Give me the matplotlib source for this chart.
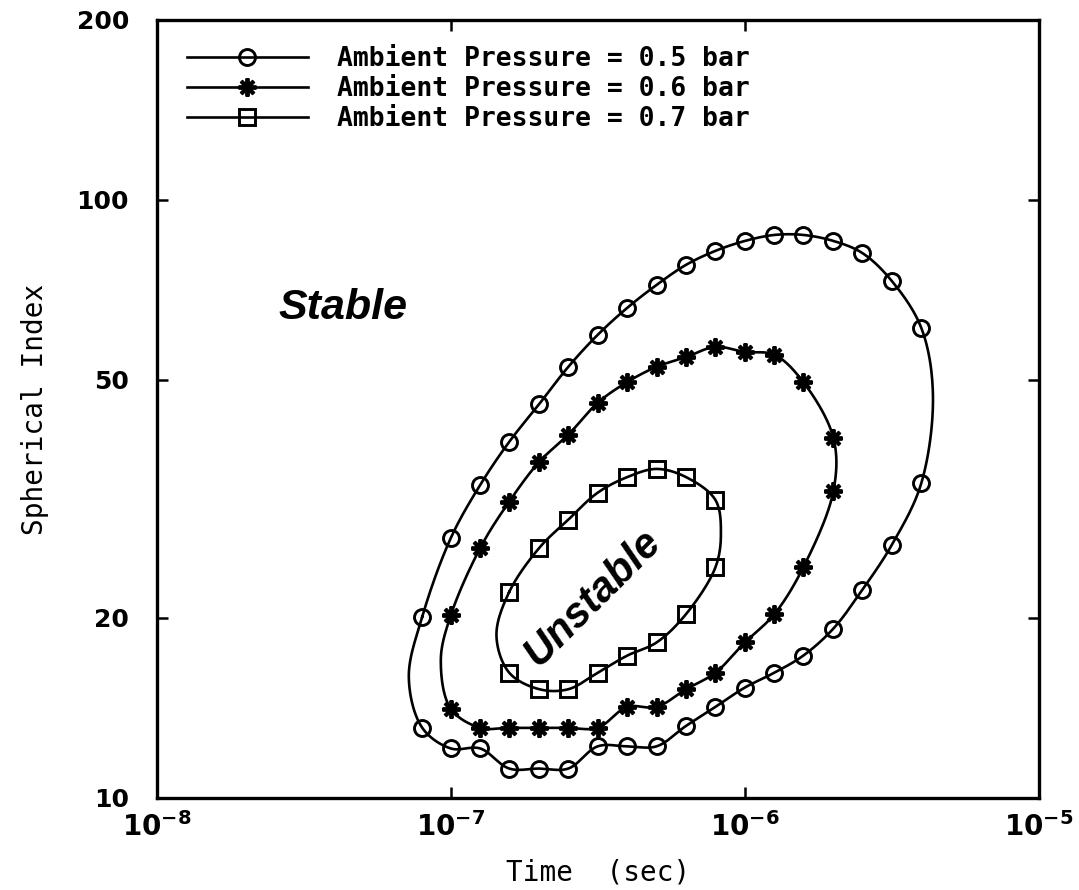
import numpy as np
import matplotlib
matplotlib.use("Agg")
import matplotlib.pyplot as plt
from matplotlib.ticker import FixedLocator, NullLocator, FixedFormatter

# ---------- data: time (s) and spherical index along each stability boundary ----------
# mark = 1 where a symbol is drawn, 0 for outline points without a symbol
t_05 = [8e-8, 1e-7, 1.26e-7, 1.58e-7, 2e-7, 2.51e-7, 3.16e-7, 3.98e-7, 5.01e-7, 6.31e-7,
        7.94e-7, 1e-6, 1.26e-6, 1.58e-6, 2e-6, 2.51e-6, 3.16e-6, 3.98e-6, 4.36e-6,
        3.98e-6, 3.16e-6, 2.51e-6, 2e-6, 1.58e-6, 1.26e-6, 1e-6, 7.94e-7, 6.31e-7,
        5.01e-7, 3.98e-7, 3.16e-7, 2.51e-7, 2e-7, 1.58e-7, 1.26e-7, 1e-7, 8e-8, 7.2e-8]
s_05 = [20.1, 27.2, 33.4, 39.4, 45.6, 52.6, 59.5, 66.0, 72.1, 77.9,
        82.2, 85.4, 87.4, 87.4, 85.4, 81.5, 73.2, 61.1, 47.2,
        33.6, 26.5, 22.3, 19.2, 17.3, 16.2, 15.3, 14.2, 13.2,
        12.2, 12.2, 12.2, 11.2, 11.2, 11.2, 12.1, 12.1, 13.1, 15.9]
m_05 = [1] * 18 + [0] + [1] * 18 + [0]

t_06 = [1e-7, 1.26e-7, 1.58e-7, 2e-7, 2.51e-7, 3.16e-7, 3.98e-7, 5.01e-7, 6.31e-7, 7.94e-7,
        1e-6, 1.26e-6, 1.58e-6, 2e-6, 2e-6, 1.58e-6, 1.26e-6, 1e-6, 7.94e-7, 6.31e-7,
        5.01e-7, 3.98e-7, 3.16e-7, 2.51e-7, 2e-7, 1.58e-7, 1.26e-7, 1e-7, 9.25e-8]
s_06 = [20.2, 26.2, 31.3, 36.5, 40.5, 45.8, 49.6, 52.6, 54.6, 56.8,
        55.7, 55.1, 49.6, 40.0, 32.6, 24.3, 20.3, 18.2, 16.2, 15.2,
        14.2, 14.2, 13.1, 13.1, 13.1, 13.1, 13.1, 14.1, 17.0]
m_06 = [1] * 28 + [0]

t_07 = [1.58e-7, 2e-7, 2.51e-7, 3.16e-7, 3.98e-7, 5.01e-7, 6.31e-7, 7.94e-7, 8.29e-7,
        7.94e-7, 6.31e-7, 5.01e-7, 3.98e-7, 3.16e-7, 2.51e-7, 2e-7, 1.58e-7, 1.43e-7]
s_07 = [22.1, 26.2, 29.2, 32.4, 34.4, 35.5, 34.4, 31.5, 27.7,
        24.3, 20.3, 18.2, 17.3, 16.2, 15.2, 15.2, 16.2, 18.7]
m_07 = [1] * 8 + [0] + [1] * 8 + [0]

labels = ["Ambient Pressure = 0.5 bar",
          "Ambient Pressure = 0.6 bar",
          "Ambient Pressure = 0.7 bar"]

x_ticks = [1e-8, 1e-7, 1e-6, 1e-5]
x_ticklabels = [r"$10^{-8}$", r"$10^{-7}$", r"$10^{-6}$", r"$10^{-5}$"]
y_ticks = [10, 20, 50, 100, 200]


def smooth_loop(t, s, n=24):
    """closed centripetal Catmull-Rom curve through the points (log-log)"""
    p = np.column_stack([np.log10(t) * 294.0, np.log10(s) * 598.0])
    P = np.vstack([p[-1], p, p[0], p[1]])
    seg = []
    for i in range(1, len(P) - 2):
        p0, p1, p2, p3 = P[i - 1], P[i], P[i + 1], P[i + 2]
        k0 = 0.0
        k1 = k0 + np.hypot(*(p1 - p0)) ** 0.5
        k2 = k1 + np.hypot(*(p2 - p1)) ** 0.5
        k3 = k2 + np.hypot(*(p3 - p2)) ** 0.5
        u = np.linspace(k1, k2, n, endpoint=False)[:, None]
        a1 = (k1 - u) / (k1 - k0) * p0 + (u - k0) / (k1 - k0) * p1
        a2 = (k2 - u) / (k2 - k1) * p1 + (u - k1) / (k2 - k1) * p2
        a3 = (k3 - u) / (k3 - k2) * p2 + (u - k2) / (k3 - k2) * p3
        b1 = (k2 - u) / (k2 - k0) * a1 + (u - k0) / (k2 - k0) * a2
        b2 = (k3 - u) / (k3 - k1) * a2 + (u - k1) / (k3 - k1) * a3
        seg.append((k2 - u) / (k2 - k1) * b1 + (u - k1) / (k2 - k1) * b2)
    c = np.vstack(seg + [p[:1]])
    return 10 ** (c[:, 0] / 294.0), 10 ** (c[:, 1] / 598.0)


plt.rcParams["mathtext.fontset"] = "custom"
plt.rcParams["mathtext.rm"] = "DejaVu Sans:bold"
plt.rcParams["mathtext.it"] = "DejaVu Sans:bold"
plt.rcParams["mathtext.default"] = "rm"

fig = plt.figure(figsize=(10.79, 8.90), dpi=100)
ax = fig.add_axes([0.1452, 0.1034, 0.8177, 0.8742])
ax.set_xscale("log")
ax.set_yscale("log")
ax.set_xlim(1e-8, 1e-5)
ax.set_ylim(10, 200)

series = [(t_05, s_05, m_05, dict(marker="o", ms=11.5, mfc="none", mew=2.1)),
          (t_06, s_06, m_06, dict(marker=(8, 2, 0), ms=13, mew=2.8)),
          (t_07, s_07, m_07, dict(marker="s", ms=11, mfc="none", mew=2.1))]

handles = []
for (t, s, m, mk), lab in zip(series, labels):
    cx, cy = smooth_loop(t, s)
    ax.plot(cx, cy, color="black", lw=1.9, zorder=2)
    tm = [a for a, f in zip(t, m) if f]
    sm = [b for b, f in zip(s, m) if f]
    ax.plot(tm, sm, ls="none", color="black", zorder=3, **mk)
    h, = ax.plot([], [], color="black", lw=1.9, **mk)
    handles.append(h)

ax.legend(handles, labels, loc="upper left", bbox_to_anchor=(0.034, 0.966),
          frameon=False, numpoints=1, handlelength=4.6, handletextpad=1.1,
          borderaxespad=0, borderpad=0, labelspacing=0.14,
          prop={"family": "DejaVu Sans Mono", "weight": "bold", "size": 19})

ax.text(4.3e-8, 66, "Stable", fontsize=31, fontweight="bold", fontstyle="italic",
        family="Liberation Sans", ha="center", va="center")
ax.text(3.04e-7, 21.6, "Unstable", fontsize=30, fontweight="bold", fontstyle="italic",
        family="Liberation Sans", ha="center", va="center", rotation=45,
        rotation_mode="anchor")

ax.xaxis.set_major_locator(FixedLocator(x_ticks))
ax.xaxis.set_major_formatter(FixedFormatter(x_ticklabels))
ax.xaxis.set_minor_locator(NullLocator())
ax.yaxis.set_major_locator(FixedLocator(y_ticks))
ax.yaxis.set_major_formatter(FixedFormatter([str(v) for v in y_ticks]))
ax.yaxis.set_minor_locator(NullLocator())
ax.tick_params(which="major", direction="in", top=True, right=True,
               length=8, width=1.8)
ax.tick_params(axis="y", pad=20, labelsize=18)
ax.tick_params(axis="x", pad=10, labelsize=20)
for lab in ax.get_yticklabels():
    lab.set_fontweight("bold")
for sp in ax.spines.values():
    sp.set_linewidth(2.4)

ax.set_xlabel("Time  (sec)", family="DejaVu Sans Mono", fontsize=20, labelpad=12)
ax.set_ylabel("Spherical Index", family="DejaVu Sans Mono", fontsize=20, labelpad=20)

fig.savefig("out.png", dpi=100)
